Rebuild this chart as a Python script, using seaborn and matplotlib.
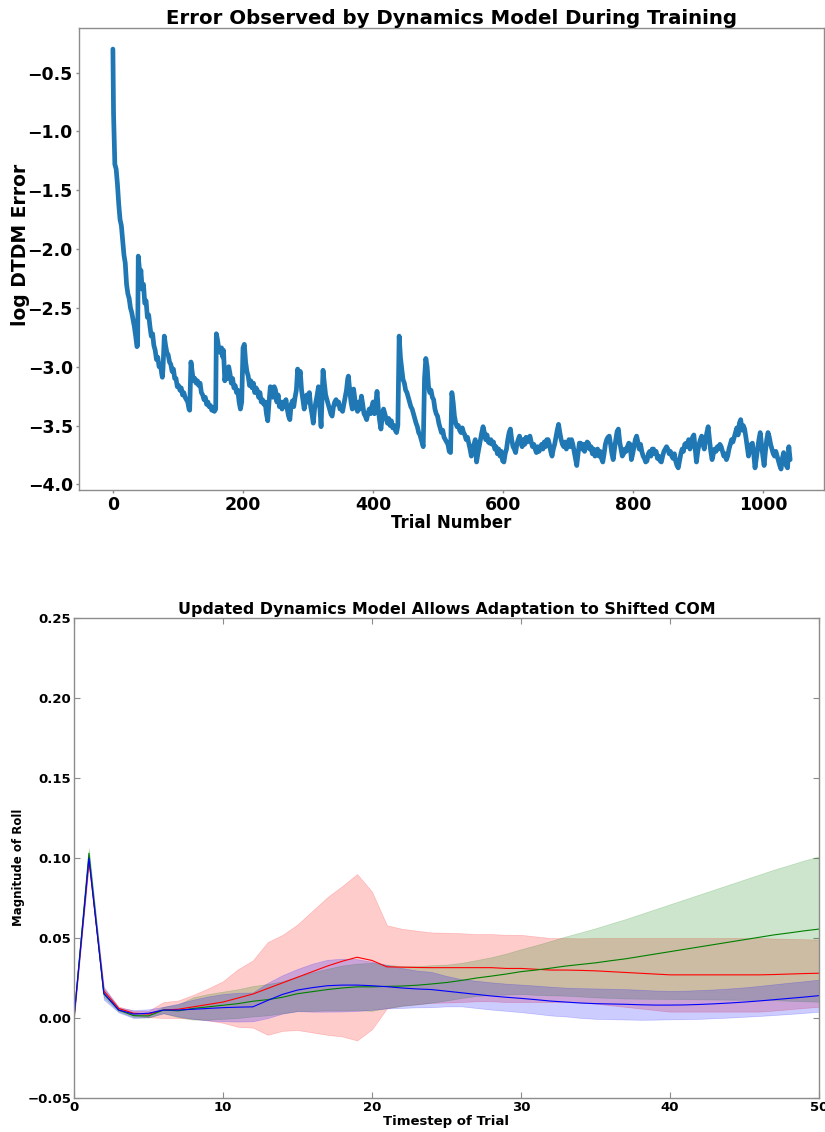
import matplotlib
matplotlib.use("Agg")
import matplotlib.pyplot as plt
import seaborn as sns

# ---------------- training curve: log DTDM error per trial ----------------
trial_number = [
    0, 1, 2, 3, 5, 7, 9, 11, 13, 15,
    17, 19, 21, 23, 25, 27, 29, 31, 33, 35,
    37, 38, 39, 40, 42, 43, 45, 47, 49, 51,
    53, 55, 57, 59, 61, 63, 65, 67, 69, 71,
    73, 75, 76, 77, 79, 81, 83, 85, 87, 89,
    91, 93, 95, 97, 99, 101, 103, 105, 107, 109,
    111, 113, 115, 117, 118, 120, 122, 124, 126, 128,
    130, 132, 134, 136, 138, 140, 142, 144, 146, 148,
    150, 152, 154, 156, 158, 159, 161, 163, 165, 167,
    169, 170, 172, 174, 176, 178, 180, 182, 184, 186,
    188, 190, 192, 194, 196, 198, 200, 202, 204, 206,
    208, 210, 212, 214, 216, 218, 220, 222, 224, 226,
    228, 230, 232, 234, 236, 238, 240, 242, 244, 246,
    248, 250, 252, 254, 256, 258, 260, 262, 264, 266,
    268, 270, 272, 274, 276, 278, 280, 282, 284, 286,
    288, 290, 292, 294, 296, 298, 300, 302, 304, 306,
    308, 310, 312, 314, 316, 318, 320, 322, 323, 325,
    327, 329, 331, 333, 335, 337, 339, 341, 343, 345,
    347, 349, 351, 353, 355, 357, 359, 361, 362, 364,
    366, 368, 370, 372, 374, 376, 378, 380, 382, 384,
    386, 388, 390, 392, 394, 396, 398, 400, 402, 404,
    406, 408, 410, 412, 414, 416, 418, 420, 422, 424,
    426, 428, 430, 432, 434, 436, 438, 440, 442, 444,
    446, 448, 450, 452, 454, 456, 458, 460, 462, 464,
    466, 468, 470, 472, 474, 476, 477, 479, 481, 483,
    485, 487, 489, 491, 493, 495, 497, 499, 501, 503,
    505, 507, 509, 511, 513, 515, 517, 519, 521, 523,
    525, 527, 529, 531, 533, 535, 537, 539, 541, 543,
    545, 547, 549, 551, 553, 555, 557, 559, 561, 563,
    565, 567, 569, 571, 573, 575, 577, 579, 581, 583,
    585, 587, 589, 591, 593, 595, 597, 599, 601, 603,
    605, 607, 609, 611, 613, 615, 617, 619, 621, 623,
    625, 627, 629, 631, 633, 635, 637, 639, 641, 643,
    645, 647, 649, 651, 653, 655, 657, 659, 661, 663,
    665, 667, 669, 671, 673, 675, 677, 679, 681, 683,
    685, 687, 689, 691, 693, 695, 697, 699, 701, 703,
    705, 707, 709, 711, 713, 715, 717, 719, 721, 723,
    725, 727, 729, 731, 733, 735, 737, 739, 741, 743,
    745, 747, 749, 751, 753, 755, 757, 759, 761, 763,
    765, 767, 769, 771, 773, 775, 777, 779, 781, 783,
    785, 787, 789, 791, 793, 795, 797, 799, 801, 803,
    805, 807, 809, 811, 813, 815, 817, 819, 821, 823,
    825, 827, 829, 831, 833, 835, 837, 839, 841, 843,
    845, 847, 849, 851, 853, 855, 857, 859, 861, 863,
    865, 867, 869, 871, 873, 875, 877, 879, 881, 883,
    885, 887, 889, 891, 893, 895, 897, 899, 901, 903,
    905, 907, 909, 911, 913, 915, 917, 919, 921, 923,
    925, 927, 929, 931, 933, 935, 937, 939, 941, 943,
    945, 947, 949, 951, 953, 955, 957, 959, 961, 963,
    965, 967, 969, 971, 973, 975, 977, 979, 981, 983,
    985, 987, 989, 991, 993, 995, 997, 999, 1001, 1003,
    1005, 1007, 1009, 1011, 1013, 1015, 1017, 1019, 1021, 1023,
    1025, 1027, 1029, 1031, 1033, 1035, 1037, 1039, 1041,
]

log_dtdm_error = [
    -0.30, -0.85, -1.05, -1.28, -1.32, -1.45, -1.62, -1.75, -1.80, -1.92,
    -2.05, -2.12, -2.30, -2.38, -2.42, -2.50, -2.54, -2.60, -2.66, -2.74,
    -2.83, -2.82, -2.06, -2.12, -2.25, -2.18, -2.34, -2.30, -2.46, -2.44,
    -2.58, -2.56, -2.66, -2.74, -2.72, -2.82, -2.86, -2.94, -2.92, -3.00,
    -2.98, -3.06, -3.09, -3.02, -2.74, -2.82, -2.88, -2.90, -2.96, -2.98,
    -3.04, -3.02, -3.10, -3.10, -3.17, -3.16, -3.20, -3.18, -3.24, -3.22,
    -3.26, -3.28, -3.30, -3.36, -3.37, -2.96, -3.05, -3.12, -3.10, -3.14,
    -3.12, -3.16, -3.14, -3.22, -3.24, -3.28, -3.26, -3.32, -3.30, -3.34,
    -3.33, -3.37, -3.35, -3.38, -3.36, -2.72, -2.78, -2.86, -2.88, -2.84,
    -2.92, -2.86, -3.12, -3.04, -3.10, -3.00, -3.06, -3.14, -3.10, -3.18,
    -3.16, -3.22, -3.20, -3.30, -3.36, -3.30, -2.84, -2.81, -2.96, -3.04,
    -3.08, -3.16, -3.12, -3.18, -3.14, -3.22, -3.18, -3.20, -3.26, -3.22,
    -3.30, -3.28, -3.32, -3.30, -3.40, -3.46, -3.30, -3.17, -3.22, -3.26,
    -3.17, -3.20, -3.30, -3.24, -3.34, -3.30, -3.36, -3.30, -3.34, -3.28,
    -3.36, -3.42, -3.45, -3.32, -3.29, -3.34, -3.26, -3.20, -3.02, -3.10,
    -3.04, -3.20, -3.28, -3.36, -3.30, -3.24, -3.30, -3.22, -3.34, -3.40,
    -3.48, -3.36, -3.30, -3.24, -3.17, -3.34, -3.51, -3.20, -3.03, -3.14,
    -3.24, -3.28, -3.32, -3.36, -3.40, -3.42, -3.34, -3.30, -3.28, -3.32,
    -3.30, -3.36, -3.34, -3.38, -3.32, -3.26, -3.20, -3.10, -3.08, -3.20,
    -3.30, -3.36, -3.19, -3.28, -3.34, -3.38, -3.30, -3.36, -3.25, -3.32,
    -3.40, -3.42, -3.45, -3.40, -3.36, -3.40, -3.34, -3.30, -3.40, -3.32,
    -3.21, -3.36, -3.46, -3.53, -3.42, -3.36, -3.40, -3.44, -3.48, -3.44,
    -3.50, -3.46, -3.52, -3.50, -3.54, -3.56, -3.50, -2.74, -2.92, -3.02,
    -3.11, -3.14, -3.20, -3.22, -3.26, -3.30, -3.34, -3.36, -3.40, -3.44,
    -3.48, -3.51, -3.56, -3.58, -3.62, -3.66, -3.68, -3.10, -2.93, -3.00,
    -3.16, -3.22, -3.20, -3.26, -3.28, -3.36, -3.40, -3.42, -3.48, -3.52,
    -3.56, -3.54, -3.60, -3.62, -3.64, -3.66, -3.72, -3.73, -3.22, -3.30,
    -3.42, -3.48, -3.51, -3.50, -3.54, -3.56, -3.52, -3.56, -3.58, -3.62,
    -3.60, -3.65, -3.70, -3.76, -3.70, -3.66, -3.62, -3.81, -3.74, -3.68,
    -3.62, -3.56, -3.51, -3.56, -3.62, -3.58, -3.64, -3.65, -3.62, -3.66,
    -3.64, -3.70, -3.68, -3.74, -3.70, -3.76, -3.72, -3.80, -3.81, -3.74,
    -3.70, -3.62, -3.56, -3.53, -3.62, -3.68, -3.70, -3.73, -3.66, -3.62,
    -3.59, -3.64, -3.68, -3.62, -3.66, -3.60, -3.64, -3.62, -3.59, -3.64,
    -3.68, -3.66, -3.70, -3.73, -3.68, -3.72, -3.70, -3.66, -3.70, -3.64,
    -3.68, -3.62, -3.62, -3.66, -3.72, -3.76, -3.70, -3.66, -3.60, -3.54,
    -3.49, -3.56, -3.62, -3.66, -3.68, -3.64, -3.70, -3.66, -3.62, -3.68,
    -3.62, -3.66, -3.72, -3.78, -3.84, -3.74, -3.65, -3.65, -3.70, -3.66,
    -3.72, -3.68, -3.64, -3.65, -3.70, -3.68, -3.74, -3.70, -3.76, -3.73,
    -3.70, -3.76, -3.72, -3.78, -3.81, -3.74, -3.66, -3.62, -3.60, -3.59,
    -3.66, -3.74, -3.79, -3.70, -3.62, -3.55, -3.53, -3.64, -3.70, -3.76,
    -3.74, -3.70, -3.72, -3.68, -3.65, -3.66, -3.79, -3.74, -3.68, -3.62,
    -3.59, -3.64, -3.70, -3.66, -3.72, -3.76, -3.78, -3.81, -3.80, -3.74,
    -3.72, -3.76, -3.70, -3.70, -3.74, -3.72, -3.78, -3.76, -3.80, -3.81,
    -3.76, -3.72, -3.70, -3.68, -3.70, -3.74, -3.72, -3.76, -3.78, -3.74,
    -3.80, -3.84, -3.86, -3.80, -3.74, -3.70, -3.72, -3.66, -3.65, -3.68,
    -3.62, -3.70, -3.64, -3.60, -3.58, -3.70, -3.81, -3.72, -3.66, -3.62,
    -3.59, -3.66, -3.70, -3.62, -3.56, -3.51, -3.62, -3.72, -3.79, -3.74,
    -3.70, -3.72, -3.68, -3.70, -3.66, -3.68, -3.72, -3.76, -3.74, -3.79,
    -3.76, -3.70, -3.66, -3.62, -3.64, -3.60, -3.56, -3.52, -3.58, -3.48,
    -3.45, -3.54, -3.50, -3.53, -3.60, -3.68, -3.76, -3.70, -3.66, -3.65,
    -3.74, -3.86, -3.78, -3.70, -3.62, -3.56, -3.66, -3.76, -3.84, -3.72,
    -3.62, -3.56, -3.60, -3.66, -3.70, -3.74, -3.76, -3.72, -3.76, -3.80,
    -3.84, -3.87, -3.78, -3.73, -3.80, -3.84, -3.86, -3.68, -3.79,
]

# ---------------- roll magnitude per timestep (mean and std per model) ----------------
timestep = list(range(51))

roll_red_mean = [
    0.0, 0.099, 0.017, 0.006, 0.003, 0.0025, 0.005, 0.0055, 0.007, 0.0085,
    0.010, 0.0125, 0.015, 0.0185, 0.022, 0.0255, 0.029, 0.0325, 0.0355, 0.038,
    0.036, 0.032, 0.0318, 0.0316, 0.0315, 0.0315, 0.0315, 0.0315, 0.0315, 0.031,
    0.031, 0.0305, 0.030, 0.030, 0.0298, 0.0295, 0.029, 0.0285, 0.028, 0.0275,
    0.027, 0.027, 0.027, 0.027, 0.027, 0.027, 0.027, 0.0272, 0.0275, 0.0278,
    0.028,
]
roll_red_std = [
    0.0, 0.002, 0.0015, 0.0012, 0.0015, 0.002, 0.005, 0.0055, 0.0075, 0.010,
    0.013, 0.018, 0.021, 0.029, 0.030, 0.033, 0.038, 0.043, 0.047, 0.052,
    0.043, 0.026, 0.024, 0.023, 0.022, 0.0218, 0.0215, 0.021, 0.021, 0.021,
    0.021, 0.0205, 0.020, 0.020, 0.020, 0.0205, 0.021, 0.0215, 0.022, 0.0225,
    0.023, 0.023, 0.023, 0.023, 0.023, 0.023, 0.023, 0.0225, 0.022, 0.0215,
    0.021,
]

roll_green_mean = [
    0.0, 0.103, 0.015, 0.005, 0.0015, 0.0013, 0.005, 0.0045, 0.006, 0.007,
    0.008, 0.009, 0.0105, 0.0115, 0.013, 0.0152, 0.0165, 0.0178, 0.0188, 0.0195,
    0.0195, 0.0198, 0.020, 0.0205, 0.0213, 0.0222, 0.0235, 0.025, 0.0262, 0.0275,
    0.029, 0.030, 0.0312, 0.0325, 0.0335, 0.0345, 0.0358, 0.037, 0.0385, 0.040,
    0.0415, 0.043, 0.0445, 0.046, 0.0475, 0.049, 0.0505, 0.052, 0.0532, 0.0545,
    0.0556,
]
roll_green_std = [
    0.0, 0.003, 0.002, 0.001, 0.001, 0.001, 0.002, 0.004, 0.007, 0.008,
    0.0085, 0.009, 0.0095, 0.0098, 0.010, 0.0108, 0.012, 0.013, 0.014, 0.0145,
    0.015, 0.0135, 0.0125, 0.012, 0.0117, 0.0112, 0.011, 0.0112, 0.0118, 0.0128,
    0.014, 0.0155, 0.017, 0.0185, 0.020, 0.0216, 0.0232, 0.0248, 0.0264, 0.028,
    0.0296, 0.0312, 0.0328, 0.0344, 0.036, 0.0376, 0.0392, 0.0408, 0.0424, 0.044,
    0.0454,
]

roll_blue_mean = [
    0.0, 0.100, 0.0155, 0.005, 0.0025, 0.003, 0.005, 0.005, 0.0055, 0.006,
    0.0065, 0.0068, 0.007, 0.011, 0.0148, 0.0175, 0.019, 0.0202, 0.0206, 0.0206,
    0.0202, 0.0196, 0.0188, 0.0182, 0.0178, 0.0168, 0.0158, 0.0148, 0.0138, 0.013,
    0.0123, 0.0115, 0.0106, 0.0100, 0.0094, 0.009, 0.0088, 0.0086, 0.0083, 0.0081,
    0.0081, 0.0082, 0.0085, 0.0089, 0.0094, 0.0100, 0.0107, 0.0115, 0.0123, 0.0131,
    0.014,
]
roll_blue_std = [
    0.0, 0.003, 0.004, 0.0015, 0.0025, 0.0025, 0.002, 0.004, 0.006, 0.0075,
    0.0085, 0.009, 0.009, 0.011, 0.012, 0.0132, 0.015, 0.0162, 0.0165, 0.0162,
    0.015, 0.0136, 0.0125, 0.0115, 0.011, 0.0095, 0.0085, 0.0085, 0.0085, 0.0085,
    0.0086, 0.0088, 0.009, 0.009, 0.0093, 0.0095, 0.0095, 0.0095, 0.0094, 0.0091,
    0.0089, 0.0089, 0.009, 0.009, 0.0091, 0.0092, 0.0094, 0.0096, 0.0098, 0.0099,
    0.010,
]

roll_series = [
    (roll_red_mean, roll_red_std, "#ff0000"),
    (roll_green_mean, roll_green_std, "#008000"),
    (roll_blue_mean, roll_blue_std, "#0000ff"),
]

# ---------------- styling ----------------
sns.set_theme(style="white", color_codes=False, rc={
    "axes.edgecolor": "#8c8c8c",
    "axes.linewidth": 1.0,
    "xtick.color": "#8c8c8c",
    "ytick.color": "#8c8c8c",
    "xtick.labelcolor": "black",
    "ytick.labelcolor": "black",
    "axes.labelcolor": "black",
    "text.color": "black",
})
plt.rcParams["font.family"] = ["DejaVu Sans"]
plt.rcParams["font.weight"] = "bold"
plt.rcParams["axes.titleweight"] = "bold"
plt.rcParams["axes.labelweight"] = "bold"

fig = plt.figure(figsize=(8.25, 11.32), dpi=100)
ax_top = fig.add_axes([0.0958, 0.5671, 0.9030, 0.4081])
ax_bot = fig.add_axes([0.0897, 0.0300, 0.9030, 0.4240])

# ---- top: training error ----
sns.lineplot(x=trial_number, y=log_dtdm_error, ax=ax_top,
             color="#1f77b4", linewidth=3.4, estimator=None)
ax_top.set_title("Error Observed by Dynamics Model During Training",
                 fontsize=14.2, fontweight="bold", pad=3)
ax_top.set_xlabel("Trial Number", fontsize=12, fontweight="bold", labelpad=0)
ax_top.set_ylabel("log DTDM Error", fontsize=13.5, fontweight="bold")
ax_top.yaxis.set_label_coords(-0.066, 0.53)
ax_top.tick_params(axis="both", which="major", labelsize=12.5, length=2.5,
                   width=1, direction="out", bottom=True, left=True,
                   top=False, right=False, pad=2)
for lbl in ax_top.get_xticklabels() + ax_top.get_yticklabels():
    lbl.set_fontweight("bold")

# ---- bottom: roll magnitude with std bands ----
for mean, std, col in roll_series:
    lower = [m - s for m, s in zip(mean, std)]
    upper = [m + s for m, s in zip(mean, std)]
    sns.lineplot(x=timestep, y=mean, ax=ax_bot, color=col, linewidth=0.8,
                 estimator=None)
    ax_bot.fill_between(timestep, lower, upper, color=col, alpha=0.2,
                        linewidth=0.5)

ax_bot.set_xlim(0, 50)
ax_bot.set_ylim(-0.05, 0.25)
ax_bot.set_xticks([0, 10, 20, 30, 40, 50])
ax_bot.set_yticks([-0.05, 0.0, 0.05, 0.10, 0.15, 0.20, 0.25])
ax_bot.set_title("Updated Dynamics Model Allows Adaptation to Shifted COM",
                 fontsize=11.4, fontweight="bold", pad=3)
ax_bot.set_xlabel("Timestep of Trial", fontsize=9.5, fontweight="bold",
                  labelpad=1)
ax_bot.set_ylabel("Magnitude of Roll", fontsize=8.5, fontweight="bold")
ax_bot.yaxis.set_label_coords(-0.066, 0.48)
ax_bot.tick_params(axis="both", which="major", labelsize=9.5, length=4,
                   width=0.8, direction="in", bottom=True, left=True,
                   top=True, right=True, pad=2)
for lbl in ax_bot.get_xticklabels() + ax_bot.get_yticklabels():
    lbl.set_fontweight("bold")

fig.savefig("out.png", dpi=100)
